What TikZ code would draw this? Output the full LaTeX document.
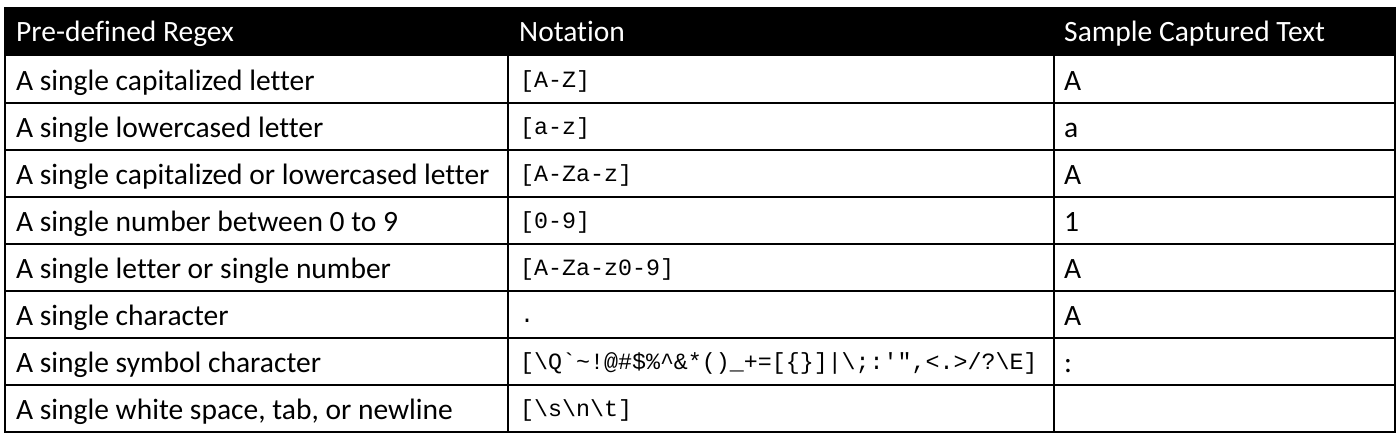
\documentclass[tikz,border=0pt]{standalone}
\usepackage{fontspec}
\setmainfont{Carlito}[Ligatures={NoCommon}]
\setmonofont{Liberation Mono}
\begin{document}
\begin{tikzpicture}[x=1pt,y=-1pt,
  cell/.style={anchor=base west,inner sep=0pt,font=\fontsize{29.5}{34}\selectfont},
  hcell/.style={cell,text=white},
  code/.style={anchor=base west,inner sep=0pt,font=\ttfamily\fontsize{23.3}{28}\selectfont},
  grid/.style={draw=black,line width=1.6pt}]
\useasboundingbox (0,0) rectangle (1400,440);
\fill[white] (0,0) rectangle (1400,440);
% header
\fill[black] (5,8) rectangle (1395,56);
\node[hcell] (h1) at (16,41) {Pre-defined Regex};
\node[hcell] (h2) at (519,41) {Notation};
\node[hcell] (h3) at (1064,41) {Sample Captured Text};
% grid
\foreach \yy in {103,150,197,244,291,338,385} \draw[grid] (5,\yy) -- (1395,\yy);
\draw[grid] (5,8) rectangle (1395,432);
\draw[grid] (508,56) -- (508,432);
\draw[grid] (1054,56) -- (1054,432);
% rows
\node[cell] (a1) at (16,90) {A single capitalized letter};
\node[code] (b1) at (520,87) {[A-Z]};
\node[cell] (c1) at (1064,90) {A};
\node[cell] (a2) at (16,137) {A single lowercased letter};
\node[code] (b2) at (520,134) {[a-z]};
\node[cell] (c2) at (1064,137) {a};
\node[cell] (a3) at (16,184) {A single capitalized or lowercased letter};
\node[code] (b3) at (520,181) {[A-Za-z]};
\node[cell] (c3) at (1064,184) {A};
\node[cell] (a4) at (16,231) {A single number between 0 to 9};
\node[code] (b4) at (520,228) {[0-9]};
\node[cell] (c4) at (1064,231) {1};
\node[cell] (a5) at (16,278) {A single letter or single number};
\node[code] (b5) at (520,275) {[A-Za-z0-9]};
\node[cell] (c5) at (1064,278) {A};
\node[cell] (a6) at (16,325) {A single character};
\node[code] (b6) at (520,322) {.};
\node[cell] (c6) at (1064,325) {A};
\node[cell] (a7) at (16,372) {A single symbol character};
\node[code] (b7) at (520,369) {[\textbackslash Q`\string~!@\#\$\%\string^\&*()\_+=[\{\}]|\textbackslash;:'",<.>/?\textbackslash E]};
\node[cell] (c7) at (1064,372) {:};
\node[cell] (a8) at (16,419) {A single white space, tab, or newline};
\node[code] (b8) at (520,416) {[\textbackslash s\textbackslash n\textbackslash t]};
\end{tikzpicture}
\end{document}
